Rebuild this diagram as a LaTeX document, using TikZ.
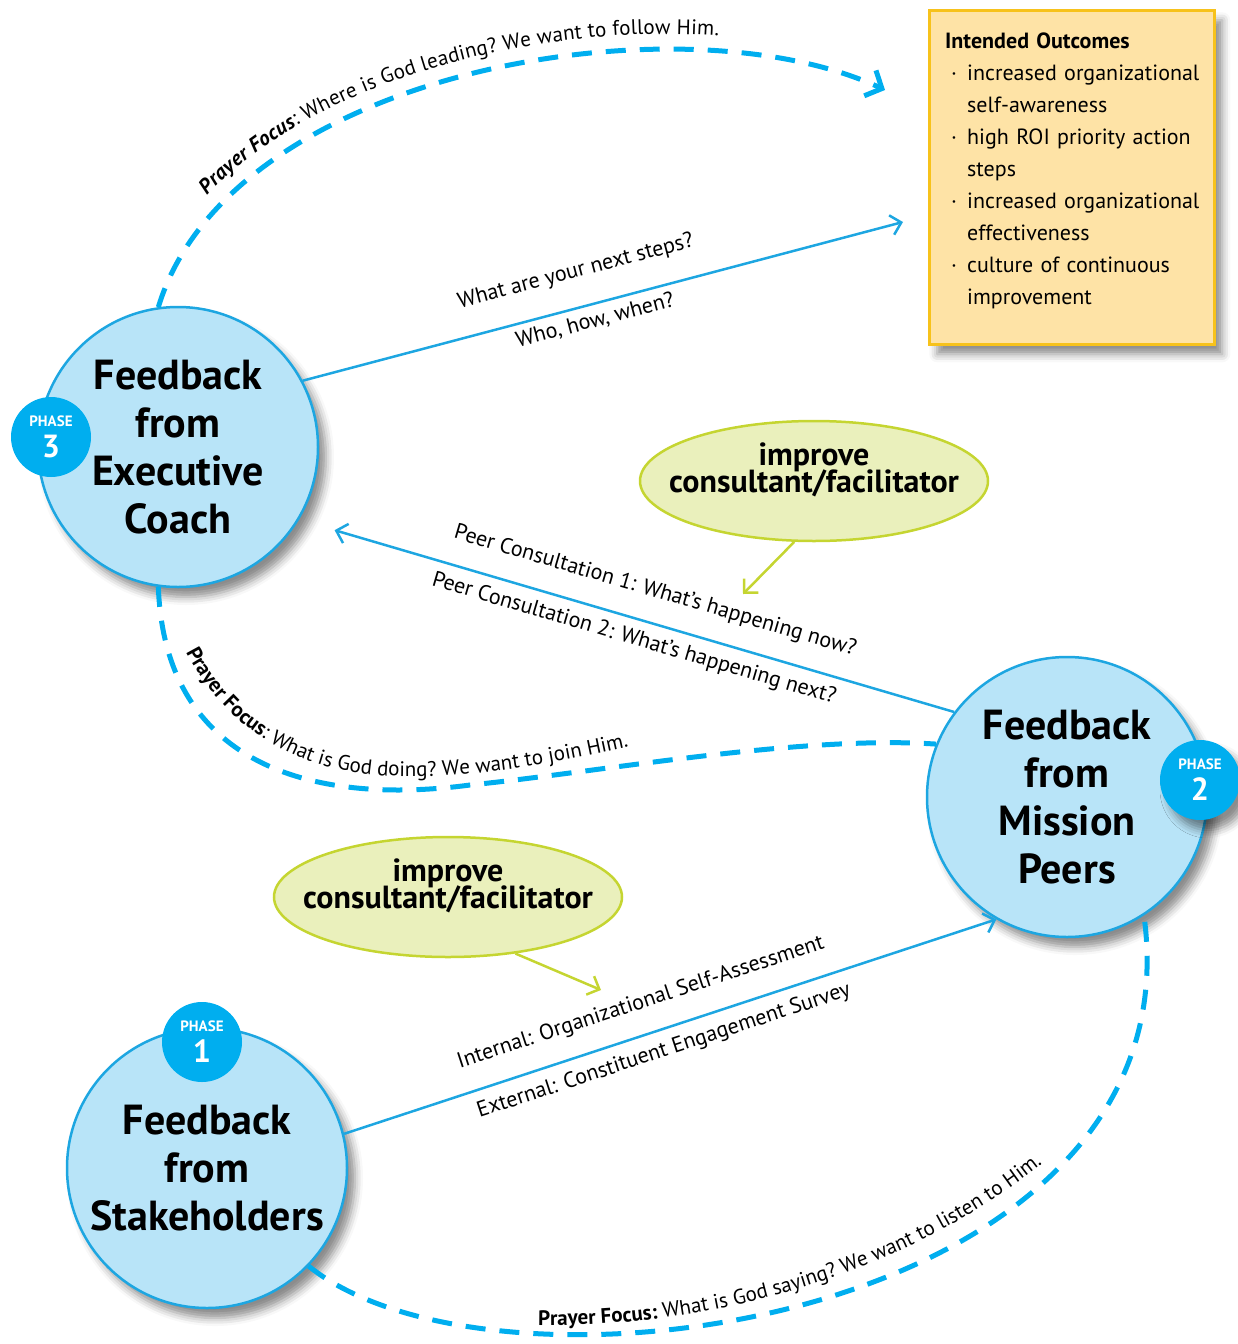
\documentclass[tikz,border=0pt]{standalone}
\usepackage{fontspec}
\setmainfont{PT Sans}
\definecolor{colorOne}{HTML}{B8E4F8}
\definecolor{colorTwo}{HTML}{1DA6E1}
\definecolor{colorThree}{HTML}{00AEEF}
\definecolor{colorFour}{HTML}{EAF0BC}
\definecolor{colorFive}{HTML}{C5D531}
\definecolor{colorSix}{HTML}{FEE3A6}
\definecolor{colorSeven}{HTML}{F7C21B}
\usetikzlibrary{arrows.meta,decorations.text,shadows.blur,shapes.geometric}
\newcommand{\pathfont}{\fontsize{21}{24}\selectfont}
\newcommand{\outitem}{\makebox[22pt][l]{\hspace{6pt}·}}
\newcommand{\outgap}{\hspace*{22pt}}
\tikzset{
  soft shadow/.style={
    blur shadow={shadow xshift=8pt,shadow yshift=-10pt,shadow blur radius=8pt,shadow opacity=45},
  },
  phase node/.style={
    circle,draw=colorTwo,fill=colorOne,line width=2.5pt,minimum size=280pt,inner sep=0pt,soft shadow,
  },
  phase text/.style={align=center,font=\bfseries\fontsize{42}{48}\selectfont},
  badge node/.style={
    circle,fill=colorThree,minimum size=80pt,inner sep=0pt,text=white,align=center,
    font=\bfseries\fontsize{15}{31}\selectfont,
  },
  idea node/.style={
    ellipse,draw=colorFive,fill=colorFour,line width=2.5pt,minimum width=348pt,minimum height=120pt,inner sep=0pt,
  },
  idea text/.style={align=center,font=\bfseries\fontsize{32}{30}\selectfont},
  outcome node/.style={
    rectangle,anchor=north west,draw=colorSeven,fill=colorSix,line width=2.5pt,
    minimum width=285pt,minimum height=334pt,soft shadow,
  },
  outcome text/.style={
    anchor=north west,inner sep=0pt,text width=260pt,align=left,font=\fontsize{22}{32}\selectfont,
  },
  flow/.style={draw=colorTwo,line width=2.5pt,-{Straight Barb[length=10pt,width=20pt]}},
  nudge/.style={draw=colorFive,line width=2.5pt,-{Straight Barb[length=10pt,width=20pt]}},
  prayer/.style={draw=colorThree,line width=5pt,dash pattern=on 20pt off 14pt},
  flow label/.style={sloped,font=\fontsize{22}{24}\selectfont,inner sep=0pt},
}

\begin{document}
\begin{tikzpicture}[x=1pt,y=1pt]
   \useasboundingbox (0,0) rectangle (1238,-1344);

   % NODES
   \node[phase node] (p1) at (207,-1168) {}; % stakeholders
   \node[phase node] (p2) at (1067,-797) {}; % mission peers
   \node[phase node] (p3) at (178,-447) {}; % executive coach
   \node[phase text] (t1) at (p1) {Feedback\\from\\Stakeholders};
   \node[phase text] (t2) at (p2) {Feedback\\from\\Mission\\Peers};
   \node[phase text] (t3) at (p3) {Feedback\\from\\Executive\\Coach};

   % BADGES
   \node[badge node] (b1) at (202,-1042) {PHASE\\{\fontsize{32}{32}\selectfont 1}};
   \node[badge node,soft shadow] (b2) at (1200,-780) {PHASE\\{\fontsize{32}{32}\selectfont 2}};
   \node[badge node] (b3) at (51,-437) {PHASE\\{\fontsize{32}{32}\selectfont 3}};

   % IMPROVE
   \node[idea node] (e1) at (814,-481) {};
   \node[idea node] (e2) at (448,-897) {};
   \node[idea text] (i1) at (814,-470) {improve\\[-3pt]consultant/facilitator};
   \node[idea text] (i2) at (448,-886) {improve\\[-3pt]consultant/facilitator};

   % OUTCOMES
   \node[outcome node] (o0) at (928,-9) {};
   \node[outcome text] (o1) at (945,-33) {%
     {\bfseries Intended Outcomes}\\
     \outitem increased organizational\\
     \outgap self-awareness\\
     \outitem high ROI priority action\\
     \outgap steps\\
     \outitem increased organizational\\
     \outgap effectiveness\\
     \outitem culture of continuous\\
     \outgap improvement};
   \coordinate (g1) at (885,-90);  % prayer tip
   \coordinate (g2) at (903,-222); % next steps tip
   \coordinate (h1) at (743,-594);
   \coordinate (h2) at (601,-990);

   % DRAW LINKS
   \draw[flow] (p1.14) -- (p2.240)
     node[flow label,above=20pt,pos=0.47] (l1) {Internal: Organizational Self-Assessment}
     node[flow label,below=10pt,pos=0.48] (l2) {External: Constituent Engagement Survey};
   \draw[flow,shorten >=37pt] (p2.143) -- (p3.-31)
     node[flow label,above=20pt,pos=0.47] (l3) {Peer Consultation 1: What’s happening now?}
     node[flow label,below=9pt,pos=0.48] (l4) {Peer Consultation 2: What’s happening next?};
   \draw[flow] (p3.28) -- (g2)
     node[flow label,above=24pt,pos=0.47] (l5) {What are your next steps?}
     node[flow label,below=6pt,pos=0.48] (l6) {Who, how, when?};
   \draw[nudge] (e1.252) -- (h1);
   \draw[nudge] (e2.-40) -- (h2);

   % DRAW PRAYER
   \draw[prayer,-{Straight Barb[length=13pt,width=28pt]},
     postaction={decorate,decoration={text along path,raise=16pt,text align={left indent=118pt},
       text={|\pathfont\bfseries\itshape|Prayer Focus|\pathfont|: Where is God leading? We want to follow Him.}}}]
     (p3.98) .. controls (230,-70) and (680,5) .. (g1);
   \draw[prayer] (p3.262) .. controls (165,-770) and (320,-805) .. (470,-785)
     .. controls (600,-772) and (800,-735) .. (p2.158);
   \path[decorate,decoration={text along path,
       text={|\pathfont\bfseries|Prayer Focus|\pathfont|: What is God doing? We want to join Him.}}]
     (186,-652) .. controls (222,-722) and (290,-772) .. (390,-776)
     .. controls (480,-779) and (570,-762) .. (700,-730);
   \draw[prayer] (p1.-44) .. controls (500,-1420) and (1200,-1320) .. (p2.-57);
   \path[decorate,decoration={text along path,
       text={|\pathfont\bfseries|Prayer Focus:|\pathfont| What is God saying? We want to listen to Him.}}]
     (538,-1325) .. controls (720,-1328) and (930,-1270) .. (1075,-1135);

\end{tikzpicture}
\end{document}
